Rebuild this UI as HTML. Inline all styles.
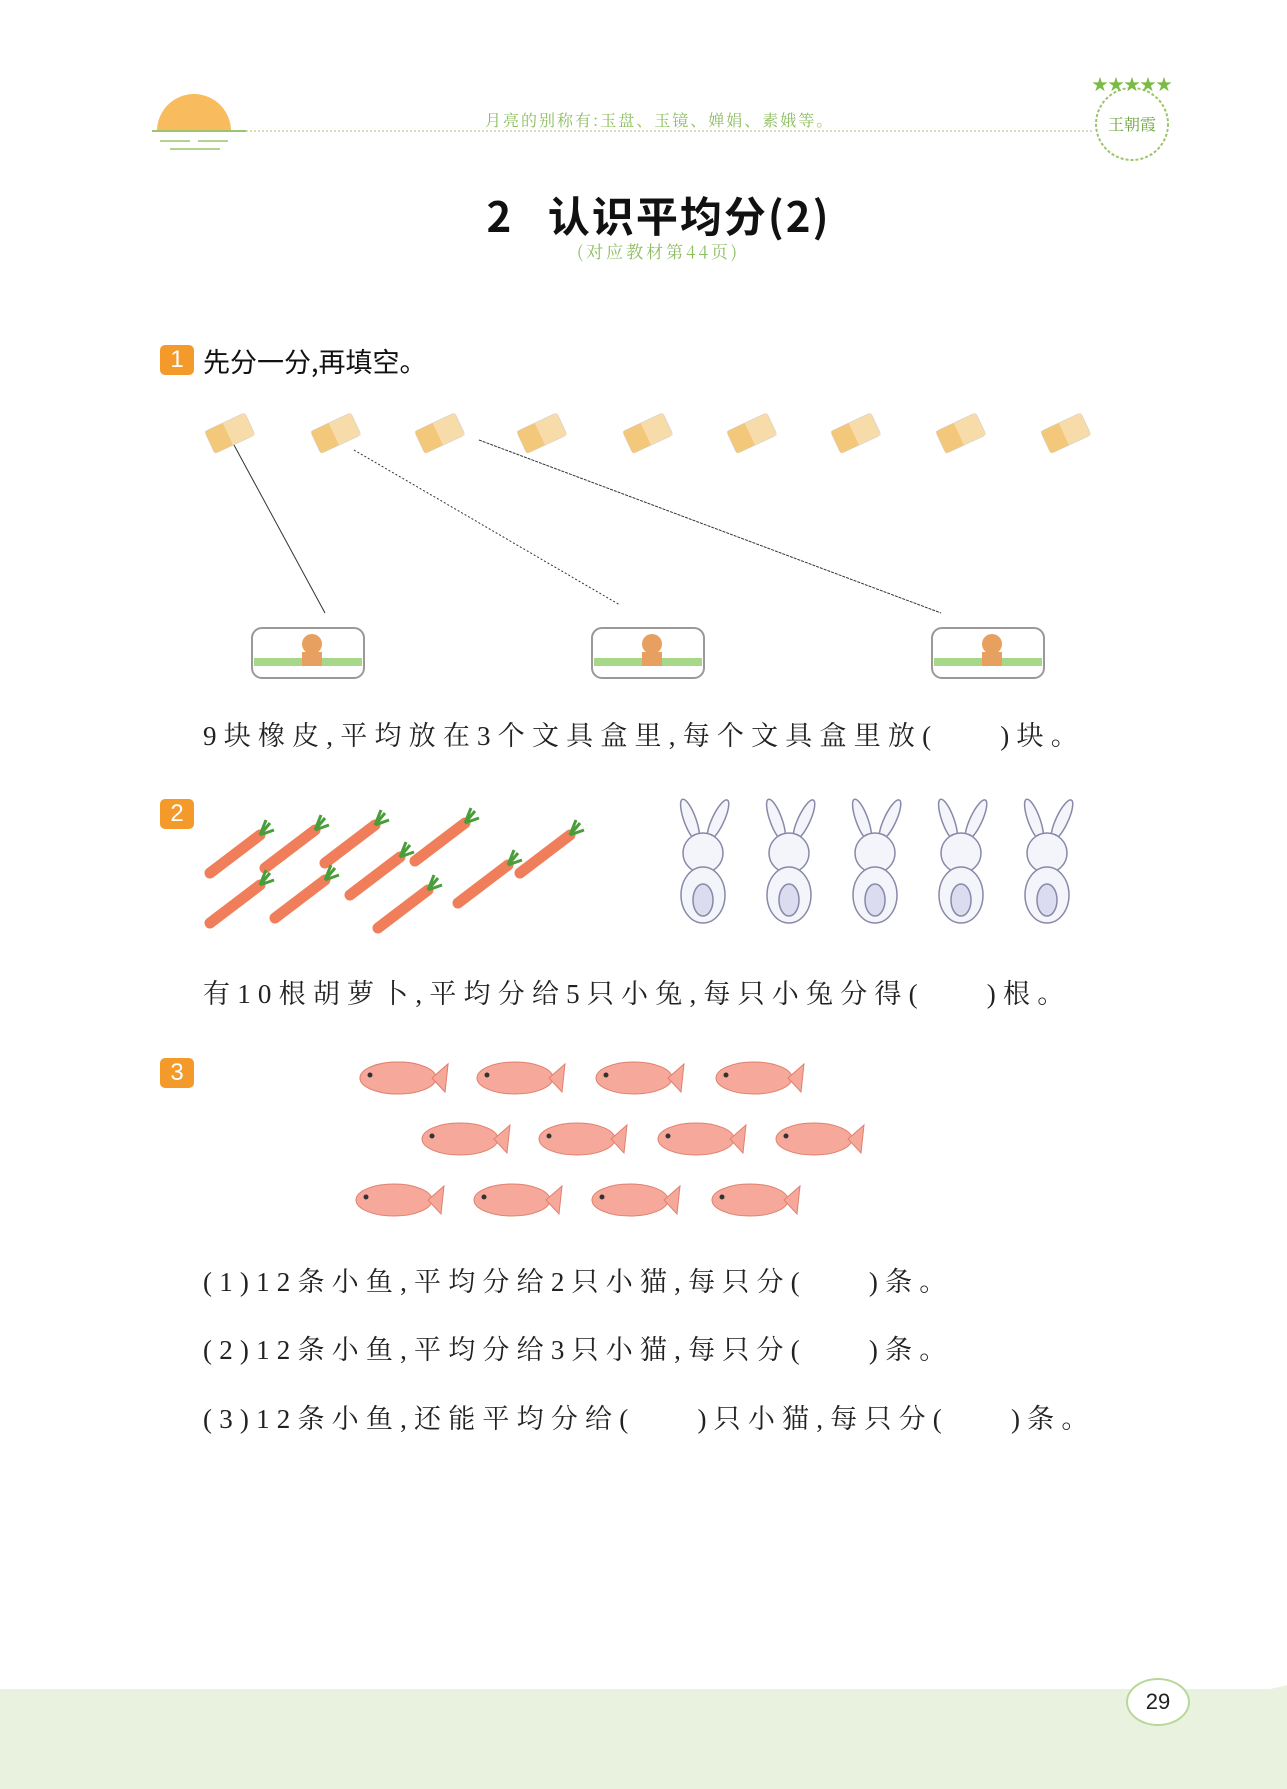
<!DOCTYPE html>
<html><head><meta charset="utf-8"><style>
body{margin:0;width:1287px;height:1789px;position:relative;background:#fff;overflow:hidden;font-family:"Liberation Sans","Noto Sans CJK SC",sans-serif}
.a{position:absolute}
.t{font-family:"Liberation Serif","Noto Serif CJK SC",serif;font-size:27px;letter-spacing:7.2px;color:#222;white-space:nowrap}
.badge{position:absolute;width:34px;height:30px;background:#f39a2b;border-radius:5px;color:#fff;font-size:24px;text-align:center;line-height:30px}
.g{display:inline-block;width:62px}
</style></head><body>
<div class="a" style="left:0;top:1689px;width:1287px;height:100px;background:#e9f2df"></div>
<svg class="a" style="left:0;top:1660px" width="1287" height="60"><path d="M0 45 Q400 20 800 35 T1287 25 V60 H0Z" fill="#e9f2df"/></svg>
<svg class="a" style="left:0;top:0" width="1287" height="300">
<path d="M157 131 A37 37 0 0 1 231 131Z" fill="#f8bb5e"/>
<line x1="152" y1="131" x2="246" y2="131" stroke="#9cc46b" stroke-width="2"/>
<line x1="160" y1="141" x2="233" y2="141" stroke="#9cc46b" stroke-width="1.5" stroke-dasharray="30 8"/>
<line x1="170" y1="149" x2="220" y2="149" stroke="#9cc46b" stroke-width="1.5"/>
<line x1="246" y1="131" x2="1092" y2="131" stroke="#9cc46b" stroke-width="1" stroke-dasharray="2 2"/>
<circle cx="1132" cy="124" r="36" fill="none" stroke="#9cc46b" stroke-width="2" stroke-dasharray="3 2"/>
<text x="1132" y="90" font-size="16" fill="#7bbb45" text-anchor="middle">★★★★★</text>
<text x="1132" y="130" font-size="16" fill="#6aa63c" text-anchor="middle" font-family="Noto Serif CJK SC">王朝霞</text>
</svg>
<div class="a" style="left:485px;top:108px;font-size:16px;color:#8cbd5f;letter-spacing:2px;font-family:'Noto Serif CJK SC',serif">月亮的别称有:玉盘、玉镜、婵娟、素娥等。</div>
<div class="a" style="left:0;width:1317px;text-align:center;top:184px;font-size:42px;font-weight:bold;color:#111;font-family:'Noto Sans CJK SC',sans-serif;letter-spacing:2px">2&nbsp;&nbsp;&nbsp;认识平均分(2)</div>
<div class="a" style="left:0;width:1317px;text-align:center;top:238px;font-size:17px;color:#8cbd5f;letter-spacing:3px;font-family:'Noto Serif CJK SC',serif">(对应教材第44页)</div>

<div class="badge" style="left:160px;top:345px">1</div>
<div class="a" style="left:203px;top:341px;font-size:27px;color:#111;font-family:'Noto Sans CJK SC',sans-serif">先分一分,再填空。</div>

<svg class="a" style="left:0;top:390px" width="1287" height="320">
<g id="e">
<g transform="rotate(-25 228 44)"><rect x="208" y="32" width="44" height="24" rx="3" fill="#fbeec8" stroke="#ccc"/><rect x="208" y="32" width="20" height="24" fill="#f3c87a"/><rect x="228" y="32" width="24" height="24" fill="#f7dca9"/></g>
</g>
<use href="#e" x="106"/><use href="#e" x="210"/><use href="#e" x="312"/><use href="#e" x="418"/><use href="#e" x="522"/><use href="#e" x="626"/><use href="#e" x="731"/><use href="#e" x="836"/>
<line x1="234" y1="55" x2="325" y2="223" stroke="#333" stroke-width="1"/>
<line x1="354" y1="60" x2="620" y2="215" stroke="#333" stroke-width="1" stroke-dasharray="2 2"/>
<line x1="479" y1="50" x2="941" y2="223" stroke="#333" stroke-width="1" stroke-dasharray="3 1"/>
<g id="b"><rect x="252" y="238" width="112" height="50" rx="10" fill="#fff" stroke="#999" stroke-width="2"/><rect x="254" y="268" width="108" height="8" fill="#a7d88a"/><circle cx="312" cy="254" r="10" fill="#e8a060"/><rect x="302" y="262" width="20" height="14" fill="#e8a060"/></g>
<use href="#b" x="340"/><use href="#b" x="680"/>
</svg>
<div class="a t" style="left:203px;top:714px">9块橡皮,平均放在3个文具盒里,每个文具盒里放(<span class="g"></span>)块。</div>

<div class="badge" style="left:160px;top:799px">2</div>
<svg class="a" style="left:200px;top:795px" width="400" height="150">
<g id="c"><line x1="10" y1="78" x2="60" y2="40" stroke="#f07e5a" stroke-width="11" stroke-linecap="round"/><path d="M60 40 l10 -12 M60 40 l14 -5 M60 40 l6 -15" stroke="#4a9e3a" stroke-width="3"/></g>
<use href="#c" x="55" y="-5"/><use href="#c" x="115" y="-10"/><use href="#c" x="205" y="-12"/><use href="#c" x="310" y="0"/>
<use href="#c" x="0" y="50"/><use href="#c" x="65" y="45"/><use href="#c" x="140" y="22"/><use href="#c" x="168" y="55"/><use href="#c" x="248" y="30"/>
</svg>
<svg class="a" style="left:660px;top:795px" width="420" height="135">
<g id="r" fill="#f4f4fb" stroke="#8888a8" stroke-width="1.5"><ellipse cx="30" cy="25" rx="6" ry="22" transform="rotate(-20 30 25)"/><ellipse cx="58" cy="25" rx="6" ry="22" transform="rotate(25 58 25)"/><circle cx="43" cy="58" r="20"/><ellipse cx="43" cy="100" rx="22" ry="28"/><ellipse cx="43" cy="105" rx="10" ry="16" fill="#dcdcf0"/></g>
<use href="#r" x="86"/><use href="#r" x="172"/><use href="#r" x="258"/><use href="#r" x="344"/>
</svg>
<div class="a t" style="left:203px;top:972px">有10根胡萝卜,平均分给5只小兔,每只小兔分得(<span class="g"></span>)根。</div>

<div class="badge" style="left:160px;top:1058px">3</div>
<svg class="a" style="left:350px;top:1050px" width="540" height="180">
<g id="f"><ellipse cx="48" cy="28" rx="38" ry="16" fill="#f6a99a" stroke="#e08070"/><path d="M82 28 L98 14 L95 42Z" fill="#f6a99a" stroke="#e08070"/><circle cx="20" cy="25" r="2.5" fill="#333"/></g>
<use href="#f" x="0" y="0"/><use href="#f" x="117" y="0"/><use href="#f" x="236" y="0"/><use href="#f" x="356" y="0"/>
<use href="#f" x="62" y="61"/><use href="#f" x="179" y="61"/><use href="#f" x="298" y="61"/><use href="#f" x="416" y="61"/>
<use href="#f" x="-4" y="122"/><use href="#f" x="114" y="122"/><use href="#f" x="232" y="122"/><use href="#f" x="352" y="122"/>
</svg>
<div class="a t" style="left:203px;top:1260px">(1)12条小鱼,平均分给2只小猫,每只分(<span class="g"></span>)条。</div>
<div class="a t" style="left:203px;top:1328px">(2)12条小鱼,平均分给3只小猫,每只分(<span class="g"></span>)条。</div>
<div class="a t" style="left:203px;top:1397px">(3)12条小鱼,还能平均分给(<span class="g"></span>)只小猫,每只分(<span class="g"></span>)条。</div>

<div class="a" style="left:1126px;top:1678px;width:60px;height:44px;border-radius:50%;background:#fff;border:2px solid #b7d89a;text-align:center;line-height:44px;font-size:22px;color:#222">29</div>
</body></html>
